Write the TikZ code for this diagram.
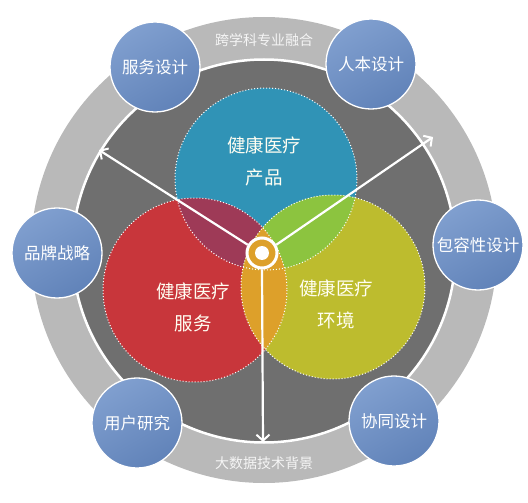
\documentclass[tikz,border=0pt]{standalone}
\usepackage{fontspec}
\setmainfont{Noto Sans CJK SC}
\usetikzlibrary{arrows.meta}
\definecolor{ringlt}{HTML}{B9B9B9}
\definecolor{ringdk}{HTML}{6F6F6F}
\definecolor{teal}{HTML}{3093B6}
\definecolor{redc}{HTML}{C8363B}
\definecolor{olive}{HTML}{BDBC2E}
\definecolor{plum}{HTML}{9E3A57}
\definecolor{leaf}{HTML}{8CC43F}
\definecolor{amber}{HTML}{DDA02A}
\definecolor{bubtop}{HTML}{809FCF}
\definecolor{bubbot}{HTML}{6183B9}
\tikzset{
    bubble/.style={circle, draw=white, line width=1.3pt, minimum size=90pt,
        inner sep=0pt, top color=bubtop, bottom color=bubbot, shading angle=30,
        text=white, font=\fontsize{16.5}{16.5}\selectfont}, % small blue circles
    venn/.style={draw=white, dotted, line width=1pt}, % dotted rim
    ringtext/.style={text=white!92!gray, font=\fontsize{14}{14}\selectfont},
    venntext/.style={text=white!95!yellow, align=center,
        font=\fontsize{18.5}{32}\selectfont},
    spoke/.style={white, line width=2.2pt, -{Straight Barb[length=6pt,width=13pt,line width=2pt]}},
}
\begin{document}
\begin{tikzpicture}[x=1pt, y=-1pt]
        \useasboundingbox (0,0) rectangle (528,503);
        % rings
        \fill[ringlt] (264,250) circle (233);
        \fill[ringdk] (264,251) circle (191);
        \draw[white, line width=2.5pt] (264,251) circle (191.5);
        \node[ringtext] (top) at (264,40) {跨学科专业融合};
        \node[ringtext] (bottom) at (264,463) {大数据技术背景};
        % venn circles
        \fill[teal] (266,179) circle (91);
        \fill[redc] (195,290) circle (92);
        \fill[olive] (333,287) circle (92);
        \begin{scope}
            \clip (195,290) circle (92);
            \fill[plum] (266,179) circle (91);
            \fill[amber] (333,287) circle (92);
        \end{scope}
        \begin{scope}
            \clip (266,179) circle (91);
            \fill[leaf] (333,287) circle (92);
            \clip (195,290) circle (92);
            \fill[amber] (333,287) circle (92);
        \end{scope}
        \draw[venn] (266,179) circle (91);
        \draw[venn] (195,290) circle (92);
        \draw[venn] (333,287) circle (92);
        \node[venntext] (product) at (264,161) {健康医疗\\产品};
        \node[venntext] (service) at (193,307) {健康医疗\\服务};
        \node[venntext] (place) at (336,304) {健康医疗\\环境};
        % hub and spokes
        \node[circle, draw=white, line width=3pt, fill=amber, minimum size=30pt,
            inner sep=0pt] (hub) at (262,253) {};
        \fill[white] (hub.center) circle (7);
        \coordinate (ul) at (99,150);
        \coordinate (ur) at (433,137);
        \coordinate (dn) at (263,442);
        \draw[spoke] (hub.150) -- (ul);
        \draw[spoke] (hub.30) -- (ur);
        \draw[spoke] (hub.south) -- (dn);
        % blue circles
        \node[bubble] (svc) at (155,67) {服务设计};
        \node[bubble] (human) at (371,64) {人本设计};
        \node[bubble] (brand) at (57,253) {品牌战略};
        \node[bubble] (incl) at (478,245) {包容性设计};
        \node[bubble] (user) at (137,423) {用户研究};
        \node[bubble] (coop) at (394,421) {协同设计};
    \end{tikzpicture}
\end{document}
